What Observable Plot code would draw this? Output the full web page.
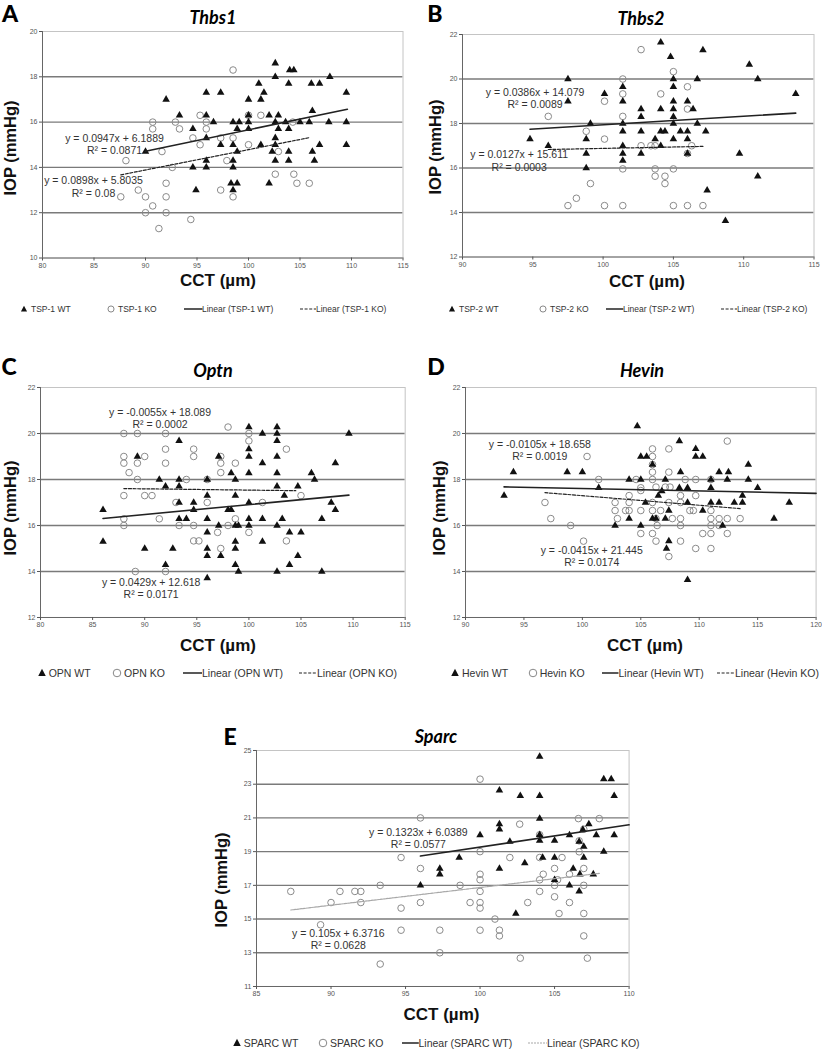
<!DOCTYPE html>
<html><head><meta charset="utf-8">
<script src="https://cdn.jsdelivr.net/npm/d3@7"></script>
<script src="https://cdn.jsdelivr.net/npm/@observablehq/plot@0.6"></script>
<style>
body{margin:0;background:#fff;}
#root{position:relative;width:822px;height:1050px;overflow:hidden;background:#fff;font-family:"Liberation Sans",Arial,sans-serif;}
.t{position:absolute;white-space:nowrap;line-height:1;transform:translate(-50%,-50%);}
.l{position:absolute;white-space:nowrap;line-height:1;transform:translateY(-50%);color:#333;}
.letter{font-family:Lato,"Open Sans",sans-serif;font-weight:900;font-size:23px;color:#000;}
.title{font-family:Lato,"Open Sans",sans-serif;font-weight:700;font-style:italic;font-size:18px;color:#000;}
.ytitle{font-weight:700;font-size:16.5px;color:#111;transform:translate(-50%,-50%) rotate(-90deg);}
.xtitle{font-weight:700;font-size:17px;color:#111;}
svg.icon{position:absolute;overflow:visible;}
</style></head><body><div id="root"></div>
<script>
// ---------------- DATA ----------------
// Panel A: Thbs1 (TSP-1)
const a_wt = [[102.6,18.6],[104.0,18.3],[104.4,18.3],[102.6,18.0],[107.9,18.0],[101.0,17.7],[103.9,17.7],[106.1,17.7],[106.9,17.7],[92.0,17.0],[95.9,17.3],[97.3,17.3],[101.5,17.3],[109.5,17.3],[100.0,17.0],[101.2,17.0],[106.2,16.5],[93.3,16.3],[95.9,16.3],[100.0,16.3],[102.0,16.3],[102.9,16.3],[96.6,16.0],[98.5,16.0],[99.1,16.0],[100.0,16.0],[102.6,16.0],[103.6,16.0],[105.0,16.0],[105.9,16.0],[107.8,16.0],[109.5,16.0],[94.6,15.7],[95.9,15.3],[98.9,15.7],[100.0,15.7],[102.9,15.7],[103.9,15.7],[102.6,15.3],[97.3,15.0],[98.5,15.0],[101.2,15.0],[102.6,15.0],[106.9,15.0],[109.5,15.0],[90.0,14.7],[98.9,14.7],[102.3,14.7],[103.9,14.7],[106.2,14.7],[95.9,14.3],[98.5,14.3],[102.6,14.3],[103.9,14.3],[106.4,14.3],[94.6,14.0],[95.9,14.0],[98.5,14.0],[98.3,13.3],[98.9,13.3],[102.0,13.3],[94.9,13.0],[98.5,13.0]];
const a_ko = [[98.5,18.3],[90.7,16.0],[90.7,15.7],[92.9,16.0],[93.3,15.7],[95.3,16.3],[95.9,16.0],[95.9,15.7],[94.6,15.3],[97.3,15.3],[98.5,15.3],[95.3,15.0],[100.0,16.3],[101.2,16.3],[100.0,15.0],[104.3,16.0],[91.6,14.7],[102.9,14.7],[88.1,14.3],[97.9,14.3],[92.6,14.0],[102.6,13.7],[104.4,13.7],[92.0,13.3],[97.3,13.0],[104.7,13.3],[105.9,13.3],[89.3,13.0],[87.6,12.7],[90.0,12.7],[92.0,12.7],[98.5,12.7],[90.7,12.3],[90.0,12.0],[92.0,12.0],[94.4,11.7],[91.3,11.3]];
const a_trend = {wt:{slope:0.0947,intercept:6.1889,r2:0.0871,from:90.0,to:109.6},ko:{slope:0.0898,intercept:5.8035,r2:0.08,from:87.6,to:105.9}};

// Panel B: Thbs2 (TSP-2)
const b_wt = [[104.1,21.65],[104.8,21.0],[107.1,21.3],[110.4,20.65],[97.5,20.0],[105.0,20.0],[106.7,20.0],[111.0,20.0],[113.7,19.33],[100.1,19.33],[101.4,19.65],[105.0,19.65],[97.5,19.0],[101.4,19.0],[105.0,19.0],[106.0,19.0],[102.7,18.65],[104.1,18.65],[105.0,18.65],[106.4,18.65],[102.7,18.3],[105.0,18.3],[99.1,18.0],[101.4,18.0],[105.0,18.0],[106.7,18.0],[101.4,17.65],[102.7,17.65],[104.1,17.65],[104.4,17.65],[105.5,17.65],[106.0,17.65],[107.3,17.65],[94.8,17.3],[98.8,17.3],[103.7,17.3],[105.0,17.3],[106.0,17.3],[96.1,17.0],[101.4,17.0],[104.1,17.0],[98.8,16.65],[101.4,16.65],[102.7,16.65],[106.0,16.65],[101.4,16.33],[98.8,16.0],[109.7,16.65],[111.0,15.63],[107.4,15.0],[108.7,13.63]];
const b_ko = [[102.7,21.32],[105.0,20.33],[101.4,20.0],[101.4,19.33],[104.1,19.33],[106.0,19.65],[100.1,19.0],[96.1,18.32],[101.4,18.32],[106.0,18.65],[98.8,17.65],[100.1,17.3],[102.7,17.0],[103.4,17.0],[103.7,17.0],[106.3,17.0],[106.0,16.65],[101.4,15.96],[103.7,15.96],[105.0,15.96],[103.7,15.63],[104.4,15.63],[104.4,15.3],[99.1,15.3],[98.1,14.64],[97.5,14.31],[100.1,14.31],[101.4,14.31],[105.0,14.31],[106.0,14.31],[107.1,14.31]];
const b_trend = {wt:{slope:0.0386,intercept:14.079,r2:0.0089,from:94.8,to:113.7},ko:{slope:0.0127,intercept:15.611,r2:0.0003,from:96.1,to:107.1}};

// Panel C: Optn (OPN)
const c_wt = [[100.0,20.28],[102.7,20.28],[101.3,20.0],[102.7,20.0],[109.6,20.0],[102.7,19.68],[93.3,19.68],[100.0,19.32],[89.3,19.0],[97.1,19.0],[100.0,19.0],[102.7,19.0],[101.3,18.71],[108.3,18.71],[98.3,18.28],[100.0,18.28],[102.7,18.28],[106.0,18.28],[91.4,18.0],[93.3,18.0],[96.0,18.0],[98.7,18.0],[106.3,18.0],[92.0,17.7],[93.3,17.7],[102.7,17.7],[104.7,17.7],[96.0,17.3],[98.7,17.3],[103.4,17.3],[93.3,17.0],[94.7,17.0],[100.0,17.0],[107.9,17.0],[108.3,16.68],[94.7,16.68],[98.0,16.68],[98.3,16.68],[86.0,16.68],[93.3,16.29],[94.0,16.29],[96.0,16.29],[100.0,16.29],[101.3,16.29],[103.2,16.29],[107.0,16.29],[97.1,16.0],[98.7,16.0],[99.0,16.0],[100.0,16.0],[102.7,16.0],[96.0,15.7],[103.9,15.7],[105.0,15.7],[86.0,15.3],[90.0,15.0],[92.7,15.0],[98.7,15.3],[101.3,15.3],[96.0,15.0],[98.7,15.0],[96.0,14.68],[97.3,14.68],[104.7,14.68],[92.0,14.29],[98.7,14.29],[103.9,14.29],[99.0,14.0],[102.7,14.0],[107.0,14.0],[96.0,13.71]];
const c_ko = [[98.0,20.28],[88.0,20.0],[89.3,20.0],[92.0,20.0],[100.0,20.0],[100.0,19.68],[103.6,19.32],[92.0,19.32],[94.7,19.32],[88.0,19.0],[90.0,19.0],[94.7,19.0],[97.3,19.0],[88.0,18.71],[89.3,18.71],[92.0,18.71],[97.3,18.71],[98.7,18.71],[88.5,18.3],[97.3,18.3],[89.3,18.0],[94.0,18.0],[96.0,18.0],[88.0,17.3],[90.0,17.3],[90.7,17.3],[105.0,17.3],[93.0,17.0],[96.0,17.0],[101.3,17.0],[88.0,16.29],[91.4,16.29],[98.7,16.29],[88.0,16.0],[93.3,16.0],[94.7,16.0],[98.0,16.0],[100.0,15.7],[97.0,15.7],[94.7,15.33],[95.2,15.33],[97.3,15.0],[103.6,15.33],[89.1,14.0],[92.0,14.0]];
const c_trend = {wt:{slope:0.0429,intercept:12.618,r2:0.0171,from:86.0,to:109.6},ko:{slope:-0.0055,intercept:18.089,r2:0.0002,from:88.0,to:104.5}};

// Panel D: Hevin
const d_wt = [[104.7,20.32],[108.3,19.67],[109.7,19.33],[105.0,19.0],[105.5,19.0],[109.7,19.0],[110.3,19.0],[106.0,18.65],[114.2,18.65],[94.1,18.32],[98.7,18.32],[100.0,18.32],[108.4,18.32],[111.7,18.32],[112.5,18.32],[104.0,18.0],[105.0,18.0],[107.1,18.0],[111.0,18.0],[112.4,18.0],[114.2,18.0],[101.4,17.64],[108.3,17.64],[109.0,17.64],[111.0,17.64],[115.0,17.64],[93.3,17.3],[106.8,17.5],[106.5,17.3],[113.7,17.3],[105.4,17.0],[109.0,17.0],[111.0,17.0],[111.7,17.0],[113.0,17.0],[113.7,17.0],[117.7,17.0],[110.3,16.65],[107.4,16.65],[104.0,16.3],[106.0,16.3],[106.3,16.3],[107.1,16.3],[116.4,16.3],[102.8,16.0],[105.0,16.0],[112.0,16.0],[107.4,15.32],[107.2,15.0],[109.0,13.64]];
const d_ko = [[112.4,19.67],[106.0,19.33],[107.4,19.33],[100.4,19.0],[106.0,19.0],[106.0,18.65],[106.0,18.32],[107.4,18.32],[101.4,18.0],[104.6,18.0],[106.0,18.0],[108.8,18.0],[109.7,18.0],[111.0,18.0],[105.0,17.64],[105.0,17.52],[107.1,17.67],[107.5,17.67],[106.3,17.67],[104.0,17.3],[108.4,17.3],[109.7,17.3],[96.8,17.0],[102.8,17.0],[104.0,17.0],[106.0,17.0],[107.4,17.0],[108.4,17.0],[102.8,16.65],[103.7,16.65],[104.0,16.65],[105.0,16.65],[106.0,16.65],[106.7,16.65],[109.2,16.65],[109.5,16.65],[111.0,16.65],[97.3,16.3],[103.0,16.3],[106.3,16.3],[107.7,16.3],[108.4,16.3],[111.0,16.3],[111.7,16.3],[112.4,16.3],[113.5,16.3],[99.0,16.0],[106.4,16.0],[108.4,16.0],[111.0,16.0],[111.7,16.0],[105.0,15.65],[106.0,15.65],[110.3,15.65],[111.0,15.65],[112.4,15.65],[100.1,15.32],[106.3,15.32],[108.4,15.32],[109.7,15.0],[111.0,15.0],[107.4,14.65]];
const d_trend = {wt:{slope:-0.0105,intercept:18.658,r2:0.0019,from:93.3,to:120},ko:{slope:-0.0415,intercept:21.445,r2:0.0174,from:96.8,to:113.5}};

// Panel E: Sparc
const e_wt = [[104.0,24.64],[108.3,23.3],[108.8,23.3],[101.3,22.64],[102.7,22.31],[104.0,22.31],[109.0,22.31],[104.0,20.96],[101.3,20.63],[101.3,20.33],[100.0,19.98],[104.0,20.0],[104.0,19.65],[102.0,19.6],[105.0,19.65],[106.0,19.98],[106.9,20.3],[107.3,20.63],[107.8,19.98],[109.0,19.98],[106.65,19.6],[106.96,19.3],[108.3,19.0],[98.6,18.65],[103.0,18.32],[104.2,18.65],[105.0,18.65],[106.96,18.65],[101.3,18.0],[106.25,18.0],[106.7,17.66],[107.6,17.66],[105.0,17.33],[106.0,17.0],[106.65,16.64],[102.4,15.33],[96.0,17.0],[97.3,18.0],[97.3,17.66]];
const e_ko = [[100.0,23.3],[102.66,20.63],[106.6,20.96],[108.0,20.96],[104.0,20.0],[104.0,18.65],[104.0,17.33],[104.0,16.64],[100.0,19.0],[102.0,18.65],[105.5,18.65],[106.65,19.64],[106.65,18.99],[106.96,20.33],[100.0,17.66],[100.0,17.33],[100.0,16.64],[100.0,15.98],[100.0,15.65],[100.0,14.34],[98.66,17.0],[99.33,15.98],[101.0,15.0],[101.3,14.34],[101.3,14.0],[102.7,12.68],[103.2,15.98],[104.24,17.66],[105.0,18.0],[105.0,17.0],[105.0,16.32],[105.2,17.33],[105.3,15.33],[106.0,17.66],[106.0,15.98],[106.96,18.0],[106.96,17.0],[106.96,15.33],[106.96,14.0],[107.2,12.68],[96.0,21.0],[94.7,18.65],[96.0,18.0],[93.3,17.0],[87.3,16.64],[90.6,16.64],[91.6,16.64],[92.0,16.64],[90.0,15.98],[92.0,15.98],[94.7,15.65],[96.0,15.98],[89.3,14.66],[94.7,14.34],[97.3,14.34],[97.3,13.0],[93.3,12.33]];
const e_trend = {wt:{slope:0.1323,intercept:6.0389,r2:0.0577,from:96.0,to:110},ko:{slope:0.105,intercept:6.3716,r2:0.0628,from:87.3,to:108.0}};

// Tick labels
const ticksX_A = [80,85,90,95,100,105,110,115];
const ticksY_A = [10,12,14,16,18,20];
const ticksX_B = [90,95,100,105,110,115];
const ticksY_B = [12,14,16,18,20,22];
const ticksX_C = [80,85,90,95,100,105,110,115];
const ticksY_C = [12,14,16,18,20,22];
const ticksX_D = [90,95,100,105,110,115,120];
const ticksY_D = [12,14,16,18,20,22];
const ticksX_E = [85,90,95,100,105,110];
const ticksY_E = [11,13,15,17,19,21,23,25];

// Series names
const names_A = ["TSP-1 WT","TSP-1 KO"];
const names_B = ["TSP-2 WT","TSP-2 KO"];
const names_C = ["OPN WT","OPN KO"];
const names_D = ["Hevin WT","Hevin KO"];
const names_E = ["SPARC WT","SPARC KO"];

// ---------------- DRAWING ----------------
const root = document.getElementById("root");
const FONT = "Liberation Sans, Arial, sans-serif";

function div(cls, html, x, y, style) {
  const d = document.createElement("div");
  d.className = cls;
  d.textContent = html;
  d.style.left = x + "px";
  d.style.top = y + "px";
  if (style) Object.assign(d.style, style);
  root.appendChild(d);
  return d;
}

function eqText(t) {
  return `y = ${t.slope}x + ${t.intercept}\nR² = ${t.r2}`;
}

function panel(cfg) {
  const [L, R, T, B] = cfg.frame;
  const padL = 32, padR = 10, padT = 10, padB = 18;
  const width = R - L + padL + padR, height = B - T + padT + padB;
  const toObj = arr => arr.map(([x, y]) => ({x, y}));
  const trendLine = t => [t.from, t.to].map(x => ({x, y: t.slope * x + t.intercept}));
  const eqs = cfg.eqPos.map(p => ({x: p.x, y: p.y, text: eqText(cfg.trend[p.key])}));
  const yt = cfg.yTicks;
  const svg = Plot.plot({
    width, height,
    marginLeft: padL, marginRight: padR, marginTop: padT, marginBottom: padB,
    style: {fontFamily: FONT, background: "transparent", overflow: "visible"},
    x: {domain: [cfg.xTicks[0], cfg.xTicks[cfg.xTicks.length - 1]]},
    y: {domain: [yt[0], yt[yt.length - 1]]},
    marks: [
      Plot.gridY({ticks: yt.slice(1, -1), stroke: "#7a7a7a", strokeOpacity: 1, strokeWidth: 1.4}),
      Plot.frame({stroke: "#c4c4c4"}),
      Plot.ruleX([cfg.xTicks[0]], {stroke: "#666"}),
      Plot.ruleY([yt[0]], {stroke: "#666"}),
      Plot.axisX({ticks: cfg.xTicks, tickSize: 3, tickPadding: 2, fontSize: 7, color: "#555", label: null}),
      Plot.axisY({ticks: yt, tickSize: 3, tickPadding: 2, fontSize: 7, color: "#555", label: null}),
      Plot.dot(toObj(cfg.ko), {x: "x", y: "y", r: 3.3, stroke: "#8a8a8a", strokeWidth: 1, fill: "none"}),
      Plot.dot(toObj(cfg.wt), {x: "x", y: "y", symbol: "triangle", r: 2.8, fill: "#111", stroke: "none"}),
      Plot.line(trendLine(cfg.trend.wt), {x: "x", y: "y", stroke: "#222", strokeWidth: 1.6}),
      Plot.line(trendLine(cfg.trend.ko), Object.assign({x: "x", y: "y"}, cfg.koStyle)),
      Plot.text(eqs, {x: "x", y: "y", text: "text", fontSize: 10.5, fill: "#333", lineHeight: 1.15, fontFamily: FONT})
    ]
  });
  svg.style.position = "absolute";
  svg.style.left = (L - padL) + "px";
  svg.style.top = (T - padT) + "px";
  root.appendChild(svg);

  // texts
  const lay = cfg.layout;
  div("t letter", cfg.letter, lay.letter[0], lay.letter[1]);
  div("t title", cfg.title, lay.title[0], lay.title[1]);
  div("t ytitle", "IOP (mmHg)", lay.ytitle[0], lay.ytitle[1]);
  div("t xtitle", "CCT (µm)", lay.xtitle[0], lay.xtitle[1]);

  // legend
  const lg = cfg.legend;
  const y = lg.y, fs = lg.fs;
  const ns = "http://www.w3.org/2000/svg";
  function icon(x0, w, draw) {
    const s = document.createElementNS(ns, "svg");
    s.setAttribute("class", "icon");
    s.setAttribute("width", w); s.setAttribute("height", 10);
    s.style.left = x0 + "px"; s.style.top = (y - 5) + "px";
    s.innerHTML = draw;
    root.appendChild(s);
  }
  const ts = fs * 0.36;
  icon(lg.tri - 5, 10, `<path d="M5,${5 - ts * 1.1} L${5 + ts},${5 + ts * 0.8} L${5 - ts},${5 + ts * 0.8}Z" fill="#111"/>`);
  icon(lg.circ - 5, 10, `<circle cx="5" cy="5" r="${ts}" fill="none" stroke="#888" stroke-width="1"/>`);
  icon(lg.line[0], lg.line[1] - lg.line[0], `<line x1="0" y1="5" x2="${lg.line[1] - lg.line[0]}" y2="5" stroke="#222" stroke-width="1.5"/>`);
  icon(lg.dash[0], lg.dash[1] - lg.dash[0], `<line x1="0" y1="5" x2="${lg.dash[1] - lg.dash[0]}" y2="5" stroke="${cfg.koStyle.stroke}" stroke-width="1.1" stroke-dasharray="${cfg.koStyle.strokeDasharray}"/>`);
  const st = {fontSize: fs + "px"};
  div("l", cfg.names[0], lg.tri + 7, y, st);
  div("l", cfg.names[1], lg.circ + 7, y, st);
  div("l", `Linear (${cfg.names[0]})`, lg.line[1], y, st);
  div("l", `Linear (${cfg.names[1]})`, lg.dash[1], y, st);
}

const dashed = {stroke: "#222", strokeWidth: 1.2, strokeDasharray: "3,1.6"};
const dottedGray = {stroke: "#a8a8a8", strokeWidth: 1.2, strokeDasharray: "2,1"};

panel({
  letter: "A", title: "Thbs1", names: names_A,
  frame: [41.5, 402, 30.9, 257.4], xTicks: ticksX_A, yTicks: ticksY_A,
  wt: a_wt, ko: a_ko, trend: a_trend, koStyle: dashed,
  eqPos: [{key: "wt", x: 86.99, y: 15.03}, {key: "ko", x: 84.95, y: 13.15}],
  layout: {letter: [10, 13], title: [213, 16.5], ytitle: [10, 148], xtitle: [218, 280]},
  legend: {y: 309, fs: 8.5, tri: 24, circ: 111, line: [183.5, 202], dash: [300, 316]}
});
panel({
  letter: "B", title: "Thbs2", names: names_B,
  frame: [462, 813.5, 33.8, 256.3], xTicks: ticksX_B, yTicks: ticksY_B,
  wt: b_wt, ko: b_ko, trend: b_trend, koStyle: dashed,
  eqPos: [{key: "wt", x: 95.16, y: 19.16}, {key: "ko", x: 94.03, y: 16.33}],
  layout: {letter: [435, 13], title: [641, 18], ytitle: [435, 147], xtitle: [647, 281]},
  legend: {y: 309, fs: 8.5, tri: 452, circ: 543, line: [605.7, 623], dash: [721, 737]}
});
panel({
  letter: "C", title: "Optn", names: names_C,
  frame: [40.3, 405, 386.7, 616.7], xTicks: ticksX_C, yTicks: ticksY_C,
  wt: c_wt, ko: c_ko, trend: c_trend, koStyle: dashed,
  eqPos: [{key: "ko", x: 91.47, y: 20.68}, {key: "wt", x: 90.62, y: 13.29}],
  layout: {letter: [9, 366], title: [213, 370], ytitle: [10, 508], xtitle: [218, 645]},
  legend: {y: 673, fs: 10.5, tri: 41.7, circ: 117, line: [183, 202], dash: [299, 317]}
});
panel({
  letter: "D", title: "Hevin", names: names_D,
  frame: [464.7, 815.3, 387, 617], xTicks: ticksX_D, yTicks: ticksY_D,
  wt: d_wt, ko: d_ko, trend: d_trend, koStyle: dashed,
  eqPos: [{key: "wt", x: 96.36, y: 19.28}, {key: "ko", x: 100.8, y: 14.65}],
  layout: {letter: [436, 366], title: [642, 370], ytitle: [439, 508], xtitle: [645, 645]},
  legend: {y: 673, fs: 10.5, tri: 455, circ: 532.7, line: [602, 618.5], dash: [717, 735]}
});
panel({
  letter: "E", title: "Sparc", names: names_E,
  frame: [255.7, 628.3, 750, 986], xTicks: ticksX_E, yTicks: ticksY_E,
  wt: e_wt, ko: e_ko, trend: e_trend, koStyle: dottedGray,
  eqPos: [{key: "wt", x: 95.86, y: 19.78}, {key: "ko", x: 90.49, y: 13.79}],
  layout: {letter: [230, 736], title: [436, 736], ytitle: [221, 880], xtitle: [441.5, 1014]},
  legend: {y: 1043, fs: 10.5, tri: 236.7, circ: 323, line: [401.7, 418.5], dash: [528, 547]}
});
</script></body></html>
